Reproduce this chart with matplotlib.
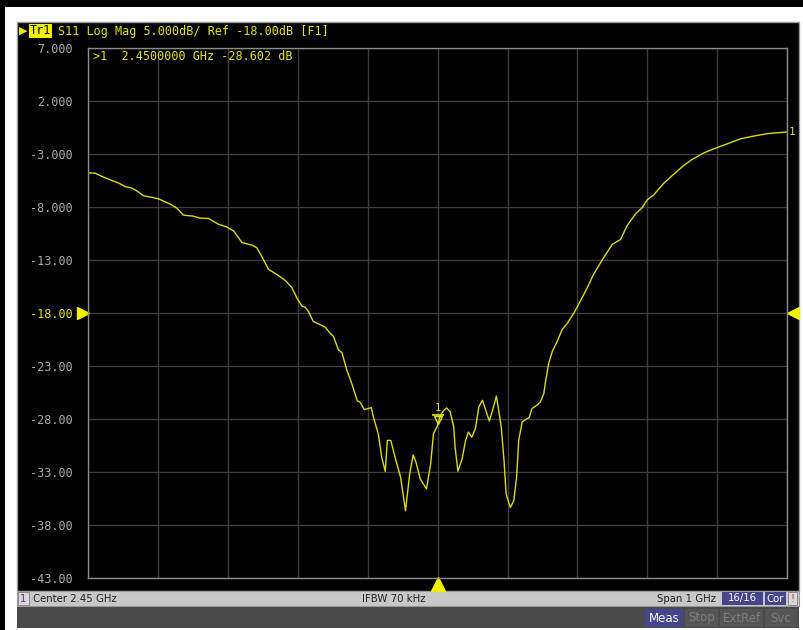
import matplotlib
matplotlib.use("Agg")
import matplotlib.pyplot as plt
from matplotlib.patches import Rectangle
from matplotlib.transforms import offset_copy, blended_transform_factory

# trace S11 (GHz, dB)
freq_ghz = [1.950, 1.960, 1.969, 1.984, 1.993, 2.003, 2.012, 2.019, 2.029, 2.041,
            2.050, 2.060, 2.069, 2.077, 2.086, 2.100, 2.110, 2.122, 2.136, 2.148,
            2.158, 2.170, 2.184, 2.191, 2.198, 2.208, 2.220, 2.232, 2.241, 2.249,
            2.256, 2.260, 2.265, 2.272, 2.282, 2.289, 2.296, 2.301, 2.308, 2.313,
            2.320, 2.327, 2.335, 2.339, 2.345, 2.351, 2.355, 2.358, 2.365, 2.370,
            2.375, 2.378, 2.383, 2.389, 2.397, 2.404, 2.410, 2.415, 2.419, 2.425,
            2.434, 2.440, 2.444, 2.450, 2.454, 2.459, 2.463, 2.468, 2.473, 2.475,
            2.479, 2.485, 2.490, 2.494, 2.499, 2.504, 2.509, 2.514, 2.518, 2.524,
            2.530, 2.534, 2.537, 2.541, 2.545, 2.548, 2.554, 2.559, 2.563, 2.566,
            2.571, 2.578, 2.581, 2.585, 2.592, 2.597, 2.602, 2.604, 2.609, 2.614,
            2.621, 2.628, 2.635, 2.645, 2.654, 2.664, 2.673, 2.686, 2.700, 2.712,
            2.721, 2.733, 2.743, 2.750, 2.759, 2.774, 2.788, 2.802, 2.814, 2.831,
            2.845, 2.865, 2.884, 2.903, 2.922, 2.950]
s11_db = [-4.78, -4.81, -5.10, -5.51, -5.73, -6.08, -6.21, -6.46, -6.94, -7.09,
          -7.22, -7.51, -7.79, -8.13, -8.77, -8.86, -9.05, -9.08, -9.62, -9.88,
          -10.26, -11.36, -11.59, -11.83, -12.63, -13.89, -14.37, -14.94, -15.57, -16.64,
          -17.37, -17.43, -17.85, -18.80, -19.11, -19.33, -19.90, -20.22, -21.48, -21.74,
          -23.38, -24.64, -26.29, -26.42, -27.11, -27.01, -26.92, -27.81, -29.39, -31.61,
          -32.94, -30.02, -30.02, -31.61, -33.50, -36.66, -33.18, -31.38, -32.08, -33.65,
          -34.60, -32.23, -29.39, -28.60, -27.65, -27.17, -26.96, -27.34, -28.76, -30.66,
          -32.93, -31.76, -30.02, -29.23, -29.71, -28.91, -26.86, -26.23, -27.01, -28.19,
          -26.86, -25.85, -27.01, -28.76, -31.92, -35.08, -36.35, -35.71, -33.50, -30.02,
          -28.28, -27.96, -27.87, -27.01, -26.70, -26.39, -25.59, -24.64, -22.74, -21.64,
          -20.69, -19.58, -19.02, -18.00, -16.90, -15.63, -14.37, -12.94, -11.52, -11.05,
          -9.78, -8.67, -8.04, -7.32, -6.87, -5.73, -4.90, -4.09, -3.52, -2.90,
          -2.52, -2.03, -1.56, -1.30, -1.08, -0.92]

ytick_vals = [7, 2, -3, -8, -13, -18, -23, -28, -33, -38, -43]
ytick_labels = ["7.000", "2.000", "-3.000", "-8.000", "-13.00", "-18.00",
                "-23.00", "-28.00", "-33.00", "-38.00", "-43.00"]
xtick_vals = [1.95 + 0.1 * i for i in range(11)]
ref_db = -18.0
mk_freq, mk_db = 2.45, -28.602

W, H = 804, 630
YEL = "#e6e600"
TRACE = "#dcdc00"
MONO = "DejaVu Sans Mono"

fig = plt.figure(figsize=(W / 100, H / 100), dpi=100)
fig.patch.set_facecolor("white")

def box(x0, y0, x1, y1, color, ec=None, lw=0, z=0):
    r = Rectangle((x0 / W, 1 - y1 / H), (x1 - x0) / W, (y1 - y0) / H,
                  transform=fig.transFigure, facecolor=color,
                  edgecolor=ec if ec else color, lw=lw, zorder=z)
    fig.add_artist(r)

def txt(x, y, s, **kw):
    fig.text(x / W, 1 - y / H, s, zorder=4, **kw)

# screen frame
box(0, 0, W, 7, "black")
box(0, 0, 5, H, "black")
box(17, 22, 799, 591, "black", ec="#9a9a9a", lw=1)
box(17, 591, 799, 606, "#c8c8c8", ec="#9a9a9a", lw=0.8)
box(17, 607, 799, 628, "#4a4a4a")

# plot area
ax = fig.add_axes([88.3 / W, 1 - 578 / H, (787 - 88.3) / W, (578 - 48) / H])
ax.set_zorder(2)
ax.set_facecolor("black")
ax.plot(freq_ghz, s11_db, color=TRACE, lw=1.0)
ax.set_xlim(1.95, 2.95)
ax.set_ylim(-43, 7)
ax.set_xticks(xtick_vals)
ax.set_xticklabels([])
ax.set_yticks(ytick_vals)
ax.set_yticklabels(ytick_labels, family=MONO, fontsize=8.5, color="#a9a9b4")
for lab in ax.get_yticklabels():
    if lab.get_text() == "-18.00":
        lab.set_color(YEL)
ax.tick_params(length=0, pad=11)
ax.grid(True, color="#3c3c3c", lw=1)
for sp in ax.spines.values():
    sp.set_color("#8c8c8c")
    sp.set_linewidth(1)

# reference level arrows
bt = blended_transform_factory(ax.transAxes, ax.transData)
ax.plot([-0.008], [ref_db], marker=">", ms=9, color="#f0f000", transform=bt, clip_on=False)
ax.plot([1.009], [ref_db], marker="<", ms=9, color="#f0f000", transform=bt, clip_on=False)
bx = blended_transform_factory(ax.transData, ax.transAxes)
ax.plot([2.45], [-0.012], marker="^", ms=10, color="#f0f000", transform=bx, clip_on=False)
ax.text(1.003, s11_db[-1], "1", color=YEL, family=MONO, fontsize=8,
        transform=bt, va="center", ha="left")

# marker 1
t1 = offset_copy(ax.transData, fig=fig, x=0, y=5, units="dots")
ax.plot([mk_freq], [mk_db], marker="v", ms=6, mfc="none", mec=YEL, mew=1, transform=t1)
t2 = offset_copy(ax.transData, fig=fig, x=0, y=10, units="dots")
ax.plot([mk_freq], [mk_db], marker="_", ms=9, mec=YEL, mew=1.2, transform=t2)
t3 = offset_copy(ax.transData, fig=fig, x=0, y=17, units="dots")
ax.text(mk_freq, mk_db, "1", color=YEL, family=MONO, fontsize=7.5,
        ha="center", va="center", transform=t3)

# header texts
txt(19, 31, "\u25B6", color=YEL, fontsize=8, va="center", family="DejaVu Sans")
box(29, 24, 52, 38, "#f0f000", z=1)
txt(30, 31, "Tr1", color="black", family=MONO, fontsize=8.5, va="center")
txt(58, 31, "S11 Log Mag 5.000dB/ Ref -18.00dB [F1]", color=YEL,
    family=MONO, fontsize=8.5, va="center")
txt(93, 57, ">1  2.4500000 GHz -28.602 dB", color=YEL, family=MONO,
    fontsize=8.5, va="center")

# status bar
SANS = "DejaVu Sans"
box(18, 592, 29, 605, "#d8d8d8", ec="#808080", lw=0.6, z=1)
txt(23.5, 598.5, "1", color="#6a2a8a", family=SANS, fontsize=7.3, ha="center", va="center")
txt(33, 598.5, "Center 2.45 GHz", color="#202020", family=SANS, fontsize=7.3, va="center")
txt(394, 598.5, "IFBW 70 kHz", color="#202020", family=SANS, fontsize=7.3,
    va="center", ha="center")
txt(716, 598.5, "Span 1 GHz", color="#202020", family=SANS, fontsize=7.3,
    va="center", ha="right")
box(722, 592, 763, 605, "#45458f", z=1)
txt(742.5, 598.5, "16/16", color="white", family=SANS, fontsize=7.3, ha="center", va="center")
box(765, 592, 786, 605, "#45458f", z=1)
txt(775.5, 598.5, "Cor", color="white", family=SANS, fontsize=7.3, ha="center", va="center")
box(788, 592, 797, 605, "#d8d8d8", ec="#808080", lw=0.6, z=1)
txt(792.5, 598.5, "!", color="#c84040", family=SANS, fontsize=7.3, ha="center", va="center")

# soft keys
box(645, 609, 683, 627, "#45458f", z=1)
txt(664, 618, "Meas", color="white", family=SANS, fontsize=8.5, ha="center", va="center")
for x0, x1, lab in [(685, 718, "Stop"), (720, 763, "ExtRef"), (765, 797, "Svc")]:
    box(x0, 609, x1, 627, "#555555", z=1)
    txt((x0 + x1) / 2, 618, lab, color="#7e7e7e", family=SANS, fontsize=8.5,
        ha="center", va="center")

fig.savefig("out.png", dpi=100, facecolor=fig.get_facecolor())
